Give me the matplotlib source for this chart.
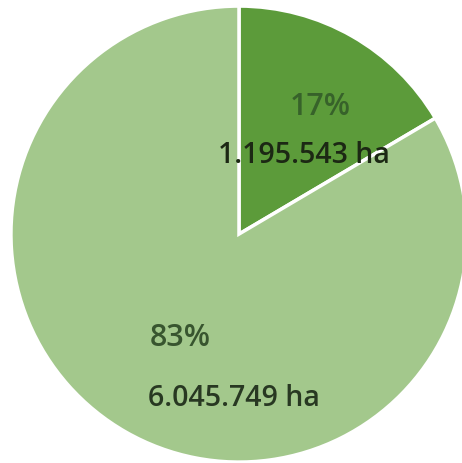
import matplotlib.pyplot as plt

# Area split (hectares)
categories = ['Dark', 'Light']
areas = [1195543, 6045749]
pct_labels = ['17%', '83%']
area_labels = ['1.195.543 ha', '6.045.749 ha']
colors = ['#5c9b3a', '#a3c88c']

fig = plt.figure(figsize=(4.62, 4.64), dpi=100)
ax = fig.add_axes([0, 0, 1, 1])

ax.pie(areas, colors=colors, startangle=90, counterclock=False, radius=1,
       wedgeprops=dict(edgecolor='white', linewidth=2.5))

# view window: pie centred left of middle, slightly cut at the right
ax.set_xlim(-1.048, 0.978)
ax.set_ylim(-1.004, 1.031)
ax.set_aspect('auto')
ax.axis('off')

font = 'Open Sans'
ax.text(0.355, 0.561, pct_labels[0], ha='center', va='center', fontsize=22,
        color='#37622a', family=font, weight='semibold')
ax.text(0.285, 0.351, area_labels[0], ha='center', va='center', fontsize=20.5,
        color='#1c2814', family=font, weight='semibold')
ax.text(-0.259, -0.452, pct_labels[1], ha='center', va='center', fontsize=22,
        color='#38552f', family=font, weight='semibold')
ax.text(-0.022, -0.715, area_labels[1], ha='center', va='center', fontsize=20.5,
        color='#283822', family=font, weight='semibold')

plt.savefig('out.png', dpi=100)
